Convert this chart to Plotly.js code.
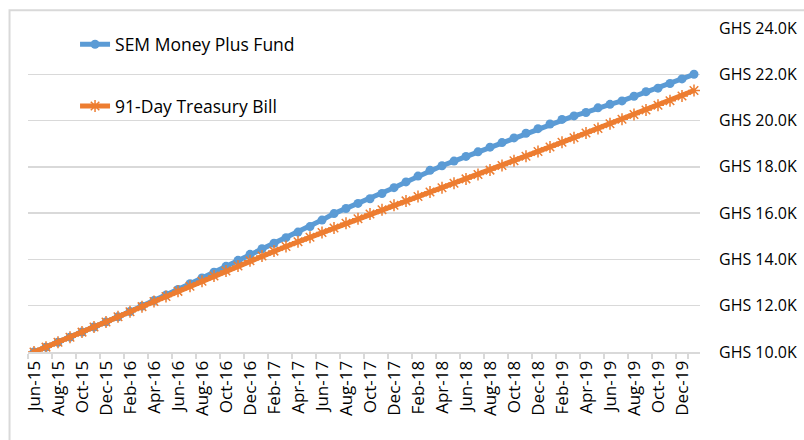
<!DOCTYPE html>
<html>
<head>
<meta charset="utf-8">
<script src="https://cdn.plot.ly/plotly-3.0.1.min.js"></script>
<style>
  html, body { margin: 0; padding: 0; background: #ffffff; }
  #chart { width: 804px; height: 440px; }
</style>
</head>
<body>
<div id="chart"></div>
<script>
// Months (category axis), Jun-15 .. Jan-20
const months = [
  "Jun-15","Jul-15","Aug-15","Sep-15","Oct-15","Nov-15","Dec-15",
  "Jan-16","Feb-16","Mar-16","Apr-16","May-16","Jun-16","Jul-16","Aug-16","Sep-16","Oct-16","Nov-16","Dec-16",
  "Jan-17","Feb-17","Mar-17","Apr-17","May-17","Jun-17","Jul-17","Aug-17","Sep-17","Oct-17","Nov-17","Dec-17",
  "Jan-18","Feb-18","Mar-18","Apr-18","May-18","Jun-18","Jul-18","Aug-18","Sep-18","Oct-18","Nov-18","Dec-18",
  "Jan-19","Feb-19","Mar-19","Apr-19","May-19","Jun-19","Jul-19","Aug-19","Sep-19","Oct-19","Nov-19","Dec-19",
  "Jan-20"
];

// Values in GHS thousands
const semMoneyPlus = [
  10.00, 10.21, 10.42, 10.64, 10.86, 11.08, 11.30,
  11.52, 11.75, 11.98, 12.22, 12.46, 12.70, 12.95, 13.20, 13.45, 13.70, 13.96, 14.22,
  14.46, 14.70, 14.94, 15.18, 15.42, 15.70, 15.98, 16.20, 16.42, 16.62, 16.85, 17.10,
  17.35, 17.60, 17.85, 18.05, 18.25, 18.45, 18.65, 18.85, 19.05, 19.25, 19.45, 19.65,
  19.85, 20.05, 20.20, 20.35, 20.55, 20.70, 20.85, 21.05, 21.25, 21.40, 21.60, 21.80,
  22.00
];

const treasuryBill91 = [
  10.00, 10.21, 10.42, 10.64, 10.86, 11.08, 11.30,
  11.52, 11.74, 11.96, 12.18, 12.40, 12.62, 12.84, 13.06, 13.28, 13.50, 13.72, 13.94,
  14.15, 14.36, 14.56, 14.76, 14.96, 15.16, 15.36, 15.56, 15.76, 15.96, 16.15, 16.34,
  16.53, 16.72, 16.91, 17.10, 17.29, 17.48, 17.67, 17.86, 18.06, 18.26, 18.46, 18.66,
  18.86, 19.06, 19.26, 19.46, 19.66, 19.86, 20.06, 20.26, 20.46, 20.66, 20.86, 21.06,
  21.30
];

const seriesNames = ["SEM Money Plus Fund", "91-Day Treasury Bill"];
const yTicks = [10, 12, 14, 16, 18, 20, 22, 24];
const yTickLabels = ["GHS 10.0K", "GHS 12.0K", "GHS 14.0K", "GHS 16.0K", "GHS 18.0K", "GHS 20.0K", "GHS 22.0K", "GHS 24.0K"];
const xTickLabels = months.filter((m, i) => i % 2 === 0);

const FONT = "Open Sans, Lato, sans-serif";
const BLUE = "#5b9bd5";
const ORANGE = "#ed7d31";
const GRID = "#d9d9d9";

const traces = [
  {
    x: months, y: semMoneyPlus, name: seriesNames[0], type: "scatter", mode: "lines+markers",
    line: { color: BLUE, width: 5 },
    marker: { symbol: "circle", size: 9, color: BLUE },
    legendgroup: "a"
  },
  {
    x: months, y: treasuryBill91, name: seriesNames[1], type: "scatter", mode: "lines+markers",
    line: { color: ORANGE, width: 5 },
    marker: { symbol: "asterisk-open", size: 10, color: ORANGE, line: { color: ORANGE, width: 1.5 } },
    legendgroup: "b"
  }
];

const layout = {
  width: 804, height: 440,
  margin: { l: 28, r: 104, t: 28, b: 88 },
  paper_bgcolor: "#ffffff",
  plot_bgcolor: "#ffffff",
  font: { family: FONT, size: 16, color: "#000000" },
  showlegend: true,
  legend: {
    x: 0.07, y: 1.005, xanchor: "left", yanchor: "top",
    bgcolor: "rgba(0,0,0,0)",
    font: { family: FONT, size: 17.5, color: "#000000" },
    traceorder: "grouped", tracegroupgap: 36
  },
  xaxis: {
    type: "category",
    tickmode: "array",
    tickvals: xTickLabels,
    ticktext: xTickLabels,
    tickson: "boundaries",
    tickangle: -90,
    ticks: "outside", ticklen: 5, tickcolor: GRID, tickwidth: 1.5,
    showline: true, linecolor: GRID, linewidth: 2,
    showgrid: false, zeroline: false,
    range: [-0.5, months.length - 0.5],
    tickfont: { family: FONT, size: 17, color: "#000000" },
    fixedrange: true
  },
  yaxis: {
    side: "right",
    range: [10, 24],
    tickmode: "array",
    tickvals: yTicks,
    ticktext: yTickLabels,
    showgrid: true, gridcolor: GRID, gridwidth: 1.5,
    zeroline: false, showline: false, ticks: "",
    ticklabelstandoff: 18,
    tickfont: { family: FONT, size: 16, color: "#000000" },
    fixedrange: true
  },
  shapes: [
    { type: "rect", xref: "paper", yref: "paper",
      x0: -0.0275, x1: 1.2, y0: -0.3, y1: 1.055,
      line: { color: GRID, width: 2 }, fillcolor: "rgba(0,0,0,0)", layer: "below" }
  ]
};

Plotly.newPlot("chart", traces, layout, { displayModeBar: false, staticPlot: true });
</script>
</body>
</html>
